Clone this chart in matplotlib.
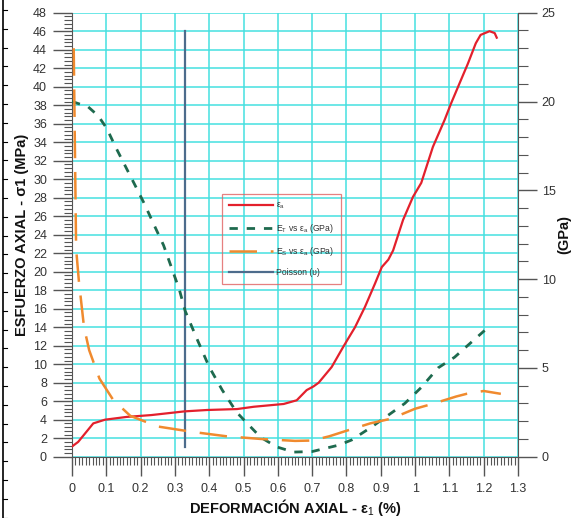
import matplotlib
matplotlib.use("Agg")
import matplotlib.pyplot as plt
from matplotlib.lines import Line2D
import numpy as np

plt.rcParams['font.family'] = ['Liberation Sans', 'DejaVu Sans']
plt.rcParams['mathtext.fontset'] = 'custom'
plt.rcParams['mathtext.rm'] = 'Liberation Sans'
plt.rcParams['mathtext.it'] = 'Liberation Sans'
plt.rcParams['mathtext.bf'] = 'Liberation Sans:bold'

# --- data -----------------------------------------------------------------
# Stress-strain curve (left axis, MPa)
strain_sigma = [0.0, 0.018, 0.062, 0.096, 0.159, 0.231, 0.328, 0.394, 0.481, 0.53,
                0.617, 0.655, 0.684, 0.704, 0.719, 0.757, 0.791, 0.825, 0.854, 0.883,
                0.903, 0.922, 0.936, 0.965, 0.994, 1.018, 1.052, 1.086, 1.105, 1.13,
                1.154, 1.177, 1.191, 1.217, 1.232, 1.238]
sigma = [1.1, 1.6, 3.6, 4.0, 4.3, 4.5, 4.9, 5.05, 5.15, 5.4,
         5.7, 6.1, 7.2, 7.6, 8.0, 9.7, 11.9, 14.0, 16.2, 18.7,
         20.5, 21.3, 22.3, 25.6, 28.1, 29.6, 33.5, 36.4, 38.2, 40.4,
         42.5, 44.7, 45.6, 46.0, 45.8, 45.3]

# Tangent modulus E_T (right axis, GPa)
strain_et = [0.0, 0.047, 0.076, 0.101, 0.128, 0.157, 0.186, 0.212, 0.238, 0.267,
             0.313, 0.33, 0.365, 0.40, 0.438, 0.48, 0.516, 0.55, 0.597, 0.646,
             0.70, 0.777, 0.815, 0.873, 0.922, 0.97, 1.018, 1.067, 1.115, 1.173, 1.22]
e_t = [20.0, 19.7, 19.2, 18.5, 17.4, 16.3, 15.2, 14.2, 13.1, 11.9,
       9.4, 8.2, 6.6, 5.05, 3.75, 2.5, 1.77, 1.09, 0.55, 0.26,
       0.29, 0.65, 0.94, 1.67, 2.34, 3.0, 3.9, 5.0, 5.6, 6.6, 7.4]

# Secant modulus E_S (right axis, GPa)
strain_es = [0.005, 0.012, 0.02, 0.035, 0.05, 0.08, 0.12, 0.17, 0.25, 0.35,
             0.45, 0.55, 0.65, 0.70, 0.75, 0.80, 0.87, 0.93, 1.0, 1.05,
             1.12, 1.15, 1.20, 1.25]
e_s = [23.0, 11.7, 9.9, 7.3, 6.0, 4.4, 3.2, 2.3, 1.7, 1.4,
       1.15, 1.0, 0.89, 0.91, 1.15, 1.46, 1.88, 2.14, 2.7, 2.97,
       3.39, 3.54, 3.7, 3.54]

# Poisson marker (vertical line, left axis)
poisson_x = 0.33
poisson_y = [1.1, 46.0]

x_ticks = [0, 0.1, 0.2, 0.3, 0.4, 0.5, 0.6, 0.7, 0.8, 0.9, 1.0, 1.1, 1.2, 1.3]
x_ticklabels = ['0', '0.1', '0.2', '0.3', '0.4', '0.5', '0.6', '0.7', '0.8', '0.9',
                '1', '1.1', '1.2', '1.3']
y_ticks = list(range(0, 49, 2))
y2_ticks = [0, 5, 10, 15, 20, 25]

legend_labels = ['\u03b5$_a$', 'E$_T$ vs \u03b5$_a$ (GPa)',
                 'E$_S$ vs \u03b5$_a$ (GPa)', 'Poisson (\u03c5)']

# --- styling --------------------------------------------------------------
RED = '#e3202c'
GREEN = '#1e6a4e'
ORANGE = '#f08a2e'
BLUE = '#4d6c8c'
GRID = '#45e0e0'
SPINE = '#555555'
TXT = '#333333'

fig = plt.figure(figsize=(5.77, 5.18), dpi=100)
ax = fig.add_axes([72/577, 1-456.7/518, (518-72)/577, (456.7-12.7)/518])
ax2 = ax.twinx()

ax.set_xlim(0, 1.3)
ax.set_ylim(0, 48)
ax2.set_ylim(0, 25)

ax.set_xticks(x_ticks)
ax.set_xticklabels(x_ticklabels)
ax.set_xticks(np.arange(0, 1.3001, 0.01), minor=True)
ax.set_yticks(y_ticks)
ax.set_yticks(np.arange(0, 48.001, 0.4), minor=True)
ax2.set_yticks(y2_ticks)
ax2.set_yticks(np.arange(0, 25.001, 1), minor=True)

ax.grid(True, which='major', color=GRID, linewidth=1.1)
ax.set_axisbelow(True)

for a in (ax, ax2):
    for s in a.spines.values():
        s.set_color(SPINE)
    a.spines['top'].set_visible(False)
ax.spines['right'].set_visible(False)
ax2.spines['left'].set_visible(False)
ax2.spines['bottom'].set_visible(False)

ax.tick_params(axis='both', which='major', direction='out', length=14, width=1,
               color=SPINE, labelsize=9, labelcolor=TXT, pad=4)
ax.tick_params(axis='both', which='minor', direction='out', length=6, width=0.8,
               color=SPINE)
ax.tick_params(axis='x', which='major', pad=5)
ax2.tick_params(axis='y', which='major', direction='out', length=14, width=1,
                color=SPINE, labelsize=9, labelcolor=TXT, pad=3)
ax2.tick_params(axis='y', which='minor', direction='out', length=7, width=0.8,
                color=SPINE)

l1, = ax.plot(strain_sigma, sigma, color=RED, lw=1.6, zorder=5)
l4, = ax.plot([poisson_x, poisson_x], poisson_y, color=BLUE, lw=1.6, zorder=4)
l2, = ax2.plot(strain_et, e_t, color=GREEN, lw=2.0, linestyle=(0, (3, 3.2)), zorder=4)
l3, = ax2.plot(strain_es, e_s, color=ORANGE, lw=1.8, linestyle=(0, (11, 5.5)), zorder=4)

fig.text(295/577, 1-507/518, 'DEFORMACIÓN AXIAL - \u03b5$_1$ (%)', fontsize=10.5,
         fontweight='bold', color='#111111', ha='center', va='center')
fig.text(22/577, 1-235/518, 'ESFUERZO AXIAL - \u03c31 (MPa)', fontsize=10.5,
         fontweight='bold', color='#111111', ha='center', va='center', rotation=90)
fig.text(564/577, 1-234/518, '(GPa)', fontsize=10.5, fontweight='bold',
         color='#111111', ha='center', va='center', rotation=90)

h1 = Line2D([], [], color=RED, lw=1.6)
h2 = Line2D([], [], color=GREEN, lw=2.0, linestyle=(0, (3, 3.2)))
h3 = Line2D([], [], color=ORANGE, lw=1.8, linestyle=(0, (11, 5.5)))
h4 = Line2D([], [], color=BLUE, lw=1.6)
leg = fig.legend([h1, h2, h3, h4], legend_labels,
                 loc='upper left', bbox_to_anchor=(222/577, 1-194/518),
                 fontsize=6.2, frameon=True, fancybox=False,
                 edgecolor='#e06060', handlelength=5.1, handletextpad=0.4,
                 labelspacing=1.2, borderpad=0.8, borderaxespad=0)
leg.get_frame().set_facecolor('none')
leg.get_frame().set_linewidth(0.9)
for t in leg.get_texts():
    t.set_color(TXT)

# document border artefact at the far left
fig.add_artist(Line2D([2.5/577, 2.5/577], [0, 1], color='black', lw=1.2,
                      transform=fig.transFigure))
for yp in np.arange(10, 518, 18.8):
    fig.add_artist(Line2D([2.5/577, 7/577], [1-yp/518, 1-yp/518], color='black',
                          lw=0.8, transform=fig.transFigure))

fig.savefig('out.png', dpi=100)
